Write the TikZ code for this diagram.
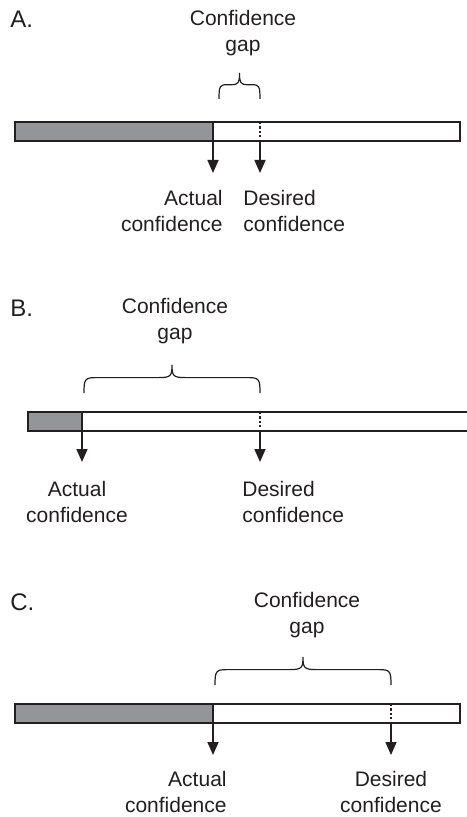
\documentclass[tikz,border=0pt]{standalone}
\usepackage{fontspec}
\setmainfont{Liberation Sans}
\usepackage{xcolor}
\usetikzlibrary{arrows.meta,positioning,calc}

\definecolor{inkgray}{RGB}{35,31,32}
\definecolor{barshade}{RGB}{147,149,152}

% curly bracket over the gap: left x, right x, end y, tip y
\newcommand{\gapbrace}[4]{%
  \pgfmathsetmacro{\bm}{(#1+#2)/2}%
  \pgfmathsetmacro{\bh}{#4+0.45*(#3-#4)}%
  \pgfmathsetmacro{\br}{min(13,(#2-#1)/5)}%
  \draw[bracket] (#1,#3) .. controls (#1,\bh+1) and (#1+1,\bh) .. (#1+\br,\bh) -- (\bm-\br,\bh)
    .. controls (\bm-1,\bh) and (\bm,\bh-2) .. (\bm,#4)
    .. controls (\bm,\bh-2) and (\bm+1,\bh) .. (\bm+\br,\bh)
    -- (#2-\br,\bh) .. controls (#2-1,\bh) and (#2,\bh+1) .. (#2,#3);
}

\begin{document}
\begin{tikzpicture}[
  x=0.5pt, y=-0.5pt,
  caption/.style={font=\fontsize{10.5}{12.8}\selectfont, text=inkgray, inner sep=0pt},
  panel/.style={font=\fontsize{12}{14}\selectfont, text=inkgray, inner sep=0pt},
  barbox/.style={draw=inkgray, line width=0.75pt, fill=white},
  barfill/.style={draw=inkgray, line width=0.75pt, fill=barshade},
  target/.style={draw=inkgray, line width=0.8pt, dash pattern=on 1.1pt off 1.1pt},
  pointer/.style={draw=inkgray, line width=0.8pt, -{Triangle[width=5.5pt,length=6.5pt]}},
  bracket/.style={draw=inkgray, line width=0.6pt}
]
  \useasboundingbox (0,0) rectangle (466,817);
  \fill[white] (0,0) rectangle (466,817);

  % Panel A
  \node[panel, anchor=base west] (A-tag) at (10,28) {A.};
  \node[caption, anchor=north, align=center] (A-gap) at (243,10) {Confidence\\gap};
  \gapbrace{219}{260}{99}{73}
  \draw[barfill] (15,122) rectangle (213,141);
  \draw[barbox] (213,122) rectangle (460,141);
  \draw[target] (260,122) -- (260,141);
  \coordinate (A-act) at (213,141);
  \coordinate (A-acttip) at (213,173);
  \coordinate (A-des) at (260,141);
  \coordinate (A-destip) at (260,173);
  \draw[pointer] (A-act) -- (A-acttip);
  \draw[pointer] (A-des) -- (A-destip);
  \node[caption, anchor=north east, align=right] (A-actlbl) at (223,190) {Actual\\confidence};
  \node[caption, anchor=north west, align=left] (A-deslbl) at (243,190) {Desired\\confidence};

  % Panel B
  \node[panel, anchor=base west] (B-tag) at (10,317) {B.};
  \node[caption, anchor=north, align=center] (B-gap) at (175,298) {Confidence\\gap};
  \gapbrace{84}{260}{393}{365}
  \draw[barfill] (28,412) rectangle (82,431);
  \draw[barbox] (82,412) rectangle (472,431);
  \draw[target] (260,412) -- (260,431);
  \coordinate (B-act) at (82,431);
  \coordinate (B-acttip) at (82,462);
  \coordinate (B-des) at (260,431);
  \coordinate (B-destip) at (260,462);
  \draw[pointer] (B-act) -- (B-acttip);
  \draw[pointer] (B-des) -- (B-destip);
  \node[caption, anchor=north, align=center] (B-actlbl) at (77,481) {Actual\\confidence};
  \node[caption, anchor=north west, align=left] (B-deslbl) at (242,481) {Desired\\confidence};

  % Panel C
  \node[panel, anchor=base west] (C-tag) at (10,610) {C.};
  \node[caption, anchor=north, align=center] (C-gap) at (307,592) {Confidence\\gap};
  \gapbrace{215}{391}{685}{657}
  \draw[barfill] (15,704) rectangle (213,723);
  \draw[barbox] (213,704) rectangle (460,723);
  \draw[target] (391,704) -- (391,723);
  \coordinate (C-act) at (213,723);
  \coordinate (C-acttip) at (213,755);
  \coordinate (C-des) at (391,723);
  \coordinate (C-destip) at (391,755);
  \draw[pointer] (C-act) -- (C-acttip);
  \draw[pointer] (C-des) -- (C-destip);
  \node[caption, anchor=north east, align=right] (C-actlbl) at (227,771) {Actual\\confidence};
  \node[caption, anchor=north, align=center] (C-deslbl) at (391,771) {Desired\\confidence};
\end{tikzpicture}
\end{document}
